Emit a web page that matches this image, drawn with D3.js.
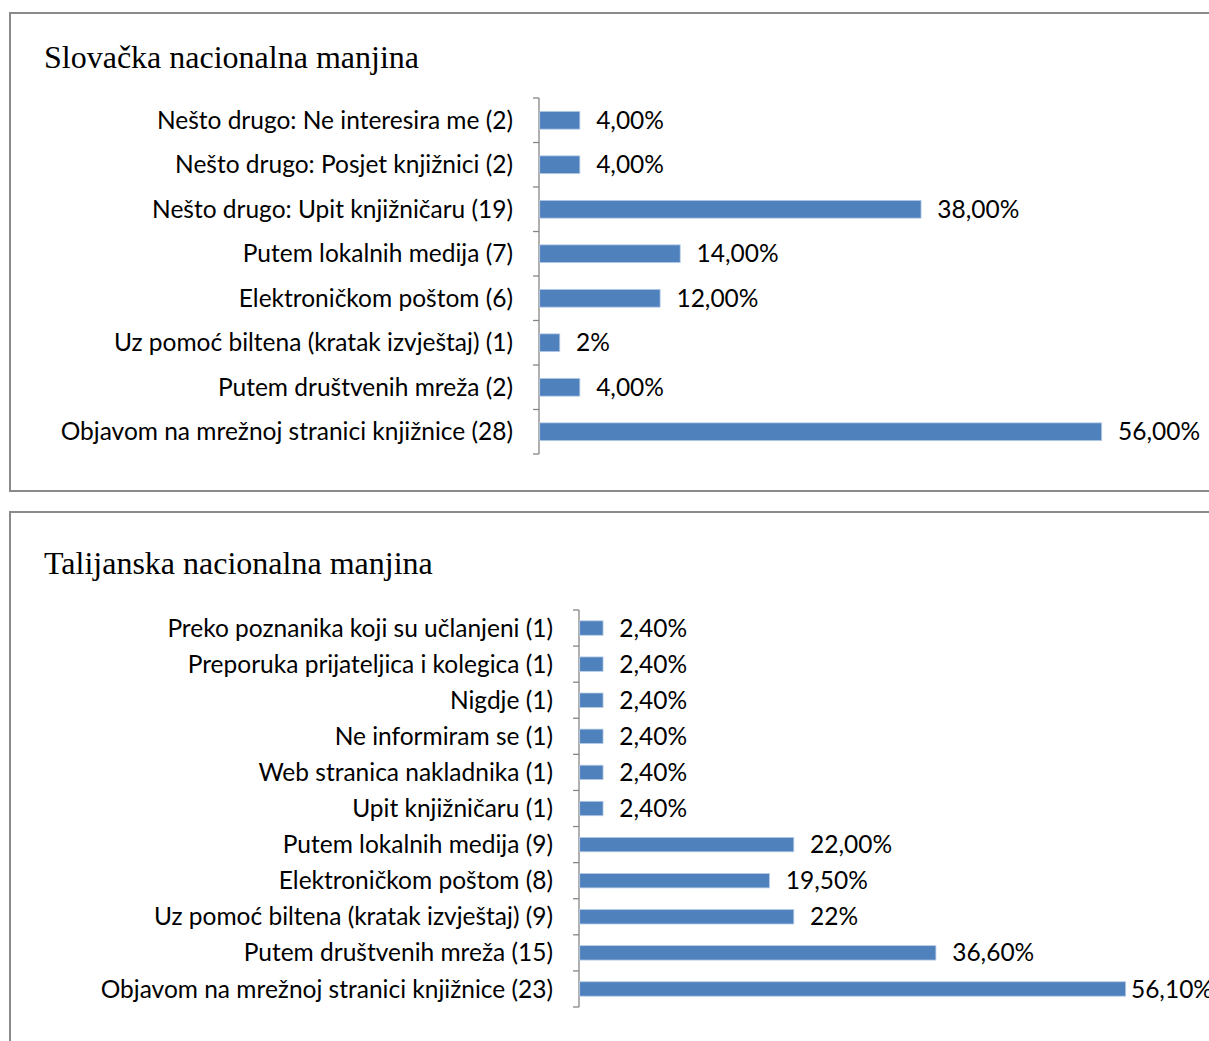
<!DOCTYPE html>
<html><head><meta charset="utf-8">
<script src="https://cdn.jsdelivr.net/npm/d3@7"></script>
<style>body{margin:0;background:#fff;} svg{display:block;}</style>
</head><body>
<script>
// ---- data ----
const title1 = "Slovačka nacionalna manjina";
const cats1 = ["Nešto drugo: Ne interesira me (2)","Nešto drugo: Posjet knjižnici (2)","Nešto drugo: Upit knjižničaru (19)","Putem lokalnih medija (7)","Elektroničkom poštom (6)","Uz pomoć biltena (kratak izvještaj) (1)","Putem društvenih mreža (2)","Objavom na mrežnoj stranici knjižnice (28)"];
const vals1 = [4, 4, 38, 14, 12, 2, 4, 56];
const labels1 = ["4,00%","4,00%","38,00%","14,00%","12,00%","2%","4,00%","56,00%"];

const title2 = "Talijanska nacionalna manjina";
const cats2 = ["Preko poznanika koji su učlanjeni (1)","Preporuka prijateljica i kolegica (1)","Nigdje (1)","Ne informiram se (1)","Web stranica nakladnika (1)","Upit knjižničaru (1)","Putem lokalnih medija (9)","Elektroničkom poštom (8)","Uz pomoć biltena (kratak izvještaj) (9)","Putem društvenih mreža (15)","Objavom na mrežnoj stranici knjižnice (23)"];
const vals2 = [2.4, 2.4, 2.4, 2.4, 2.4, 2.4, 22, 19.5, 22, 36.6, 56.1];
const labels2 = ["2,40%","2,40%","2,40%","2,40%","2,40%","2,40%","22,00%","19,50%","22%","36,60%","56,10%"];

const W = 1209, H = 1041;
const svg = d3.select("body").append("svg").attr("width", W).attr("height", H);
const LABEL_FONT = "Lato, 'Open Sans', sans-serif";
const FS = 24.5;

function panel(cfg) {
  svg.append("rect").attr("x", cfg.px).attr("y", cfg.py).attr("width", cfg.pw).attr("height", cfg.ph)
    .attr("fill", "#fff").attr("stroke", "#8a8a8a").attr("stroke-width", 2);
  svg.append("text").attr("x", cfg.tx).attr("y", cfg.ty)
    .attr("font-family", "'Liberation Serif', 'Times New Roman', serif").attr("font-size", 32)
    .attr("fill", "#000").text(cfg.title);

  const y = d3.scaleBand().domain(cfg.cats).range([cfg.y0, cfg.y1]).paddingInner(0.6).paddingOuter(0.3);
  const yAxisScale = d3.scaleBand().domain(cfg.cats).range([cfg.y0, cfg.y1]);
  const x = d3.scaleLinear().domain([0, cfg.xmaxVal]).range([cfg.x0, cfg.xmaxPx]);
  const g = svg.append("g");

  // axis line + ticks at category boundaries
  const bounds = cfg.cats.map(c => yAxisScale(c)).concat([cfg.y1]);
  g.append("line").attr("x1", cfg.x0).attr("x2", cfg.x0).attr("y1", cfg.y0).attr("y2", cfg.y1)
    .attr("stroke", "#868686").attr("stroke-width", 1.3);
  g.selectAll(".tk").data(bounds).join("line")
    .attr("x1", cfg.x0 - 6).attr("x2", cfg.x0).attr("y1", d => d).attr("y2", d => d)
    .attr("stroke", "#868686").attr("stroke-width", 1.3);

  // bars
  g.selectAll(".bar").data(cfg.vals).join("rect")
    .attr("x", cfg.x0 + 0.7)
    .attr("y", (d, i) => y(cfg.cats[i]))
    .attr("width", d => x(d) - cfg.x0)
    .attr("height", y.bandwidth())
    .attr("fill", "#4f81bd").attr("stroke", "#b9cde5").attr("stroke-width", 0.8);

  // category labels
  g.selectAll(".cl").data(cfg.cats).join("text")
    .attr("x", cfg.x0 - 26)
    .attr("y", d => yAxisScale(d) + yAxisScale.bandwidth() / 2)
    .attr("dy", "0.35em").attr("text-anchor", "end")
    .attr("font-family", LABEL_FONT).attr("font-size", FS).attr("fill", "#000")
    .text(d => d);

  // value labels
  g.selectAll(".vl").data(cfg.vals).join("text")
    .attr("y", (d, i) => yAxisScale(cfg.cats[i]) + yAxisScale.bandwidth() / 2)
    .attr("dy", "0.35em")
    .attr("font-family", LABEL_FONT).attr("font-size", FS).attr("fill", "#000")
    .text((d, i) => cfg.labels[i])
    .attr("x", function(d) {
      const w = this.getComputedTextLength();
      return Math.min(x(d) + 17, cfg.rightLimit - w);
    });
}

panel({px: 10, py: 13, pw: 1230, ph: 478, tx: 44, ty: 68, title: title1,
  cats: cats1, vals: vals1, labels: labels1, y0: 98, y1: 454, x0: 539, xmaxVal: 56, xmaxPx: 1101, rightLimit: 1260});
panel({px: 10, py: 512, pw: 1230, ph: 600, tx: 44, ty: 574, title: title2,
  cats: cats2, vals: vals2, labels: labels2, y0: 610, y1: 1007, x0: 579, xmaxVal: 56.1, xmaxPx: 1125, rightLimit: 1213});
</script>
</body></html>
